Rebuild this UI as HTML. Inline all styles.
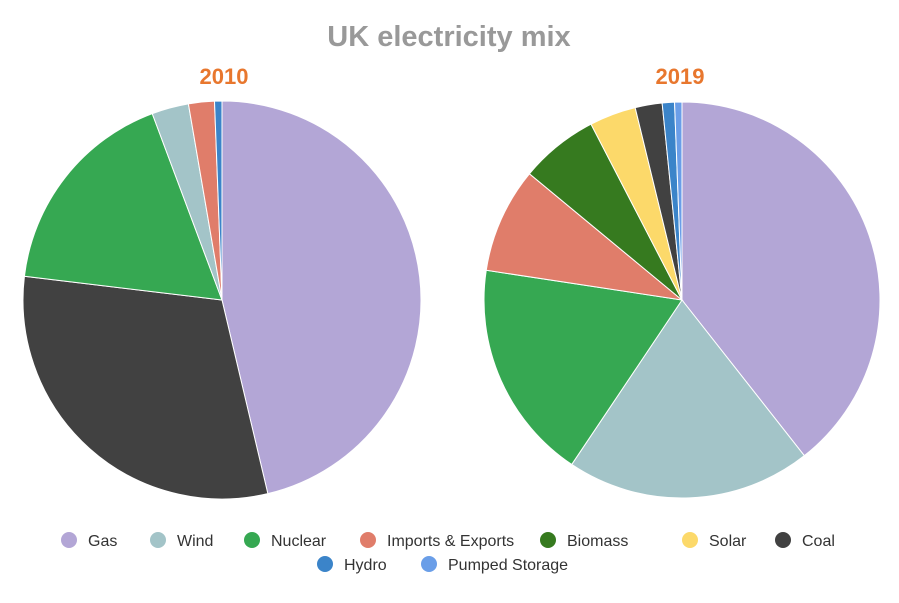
<!DOCTYPE html>
<html><head><meta charset="utf-8"><style>
body{margin:0;background:#fff;font-family:"Liberation Sans",sans-serif;}
svg{display:block}
</style></head><body>
<svg id="chart" width="899" height="603">
<text x="449" y="46" text-anchor="middle" font-size="29" font-weight="bold" fill="#999">UK electricity mix</text>
<text x="224" y="84" text-anchor="middle" font-size="22" font-weight="bold" fill="#e8772e">2010</text>
<text x="680" y="84" text-anchor="middle" font-size="22" font-weight="bold" fill="#e8772e">2019</text>
<g id="pies"></g>
<g id="legend"></g>
</svg>
<script>
const categories=["Gas","Wind","Nuclear","Imports & Exports","Biomass","Solar","Coal","Hydro","Pumped Storage"];
const colors=["#b3a6d6","#a3c4c8","#36a852","#e07d6a","#367a1f","#fcd96a","#414141","#3b84c9","#6a9ee8"];
const order2010=["Gas","Coal","Nuclear","Wind","Imports & Exports","Hydro"];
const values2010=[46.3,30.6,17.4,3.0,2.1,0.6];
const order2019=["Gas","Wind","Nuclear","Imports & Exports","Biomass","Solar","Coal","Hydro","Pumped Storage"];
const values2019=[39.4,20.0,18.0,8.6,6.4,3.8,2.2,1.0,0.6];
const NS="http://www.w3.org/2000/svg";
function drawPie(names,vals,cx,cy,r,yr){
  const g=document.getElementById('pies');
  const total=vals.reduce((a,b)=>a+b,0);
  let a0=0;
  vals.forEach((v,i)=>{
    const a1=a0+v/total*Math.PI*2;
    const x0=cx+r*Math.sin(a0),y0=cy-r*Math.cos(a0),x1=cx+r*Math.sin(a1),y1=cy-r*Math.cos(a1);
    const p=document.createElementNS(NS,'path');
    p.setAttribute('d',`M${cx},${cy}L${x0},${y0}A${r},${r} 0 ${a1-a0>Math.PI?1:0} 1 ${x1},${y1}Z`);
    p.setAttribute('fill',colors[categories.indexOf(names[i])]);
    p.setAttribute('stroke','#fff');p.setAttribute('stroke-width','1');
    
    
    g.appendChild(p);
    a0=a1;
  });
}
drawPie(order2010,values2010,222,300,199,'2010');
drawPie(order2019,values2019,682,300,198,'2019');
const legX=[69,158,252,368,548,690,783,325,429];
const legY=[540,540,540,540,540,540,540,564,564];
const lg=document.getElementById('legend');
categories.forEach((c,i)=>{
  const it=document.createElementNS(NS,'g');
  
  
  const ci=document.createElementNS(NS,'circle');
  ci.setAttribute('cx',legX[i]);ci.setAttribute('cy',legY[i]);ci.setAttribute('r',8);ci.setAttribute('fill',colors[i]);
  const t=document.createElementNS(NS,'text');
  t.setAttribute('x',legX[i]+19);t.setAttribute('y',legY[i]+6);t.setAttribute('font-size','16');t.setAttribute('fill','#333');
  t.textContent=c;
  it.appendChild(ci);it.appendChild(t);lg.appendChild(it);
});
</script>
</body></html>
